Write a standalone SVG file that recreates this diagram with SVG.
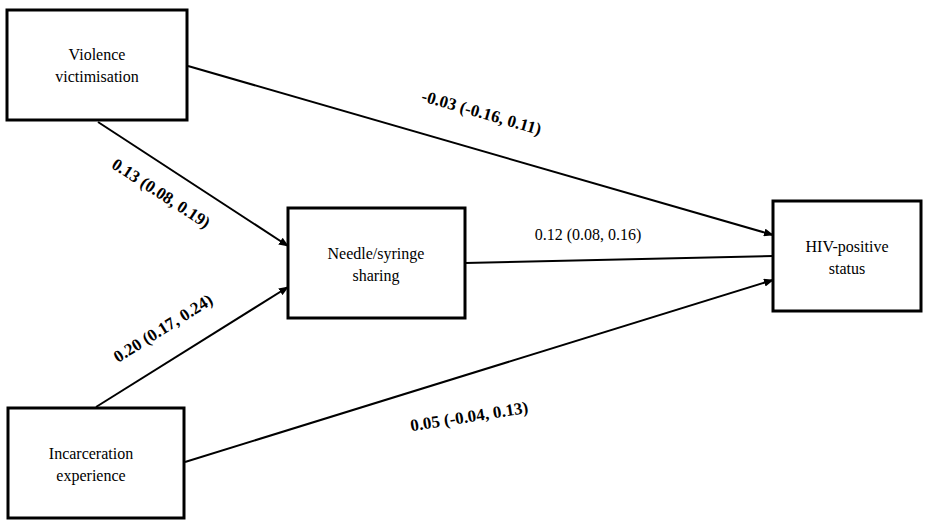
<svg xmlns="http://www.w3.org/2000/svg" width="933" height="523" viewBox="0 0 933 523">
<defs>
<style>
.box{fill:#fff;stroke:#000;stroke-width:3}
.t{font-family:"Liberation Serif","Times New Roman","DejaVu Serif",serif;font-size:16px;fill:#000;text-anchor:middle}
.b{font-weight:bold;font-size:17px}
.c{stroke:#000;stroke-width:2;fill:none}
</style>
<marker id="a" markerWidth="10" markerHeight="8" refX="9" refY="4" orient="auto" markerUnits="userSpaceOnUse"><path d="M0,0 L10,4 L0,8 z" fill="#000"/></marker>
</defs>
<rect width="933" height="523" fill="#fff"/>
<g id="connectors">
<line class="c" x1="188" y1="66" x2="773" y2="235" marker-end="url(#a)"/>
<line class="c" x1="98" y1="122" x2="288" y2="246" marker-end="url(#a)"/>
<line class="c" x1="96" y1="407" x2="288" y2="287" marker-end="url(#a)"/>
<line class="c" x1="185" y1="462" x2="773" y2="280" marker-end="url(#a)"/>
<line class="c" x1="465" y1="263" x2="773" y2="256"/>
<text class="t b" transform="translate(480,118) rotate(16)">-0.03 (-0.16, 0.11)</text>
<text class="t b" transform="translate(158,198) rotate(33)">0.13 (0.08, 0.19)</text>
<text class="t b" transform="translate(166,333) rotate(-32)">0.20 (0.17, 0.24)</text>
<text class="t b" transform="translate(470,422) rotate(-9)">0.05 (-0.04, 0.13)</text>
<text class="t" x="588" y="240">0.12 (0.08, 0.16)</text>
</g>
<g id="violence"><rect class="box" x="7" y="10" width="180" height="110"/><text class="t" x="97" y="60">Violence</text><text class="t" x="97" y="82">victimisation</text></g>
<g id="needle"><rect class="box" x="288" y="208" width="177" height="110"/><text class="t" x="376" y="259">Needle/syringe</text><text class="t" x="376" y="281">sharing</text></g>
<g id="hiv"><rect class="box" x="773" y="201" width="148" height="110"/><text class="t" x="847" y="252">HIV-positive</text><text class="t" x="847" y="274">status</text></g>
<g id="incarceration"><rect class="box" x="8" y="408" width="176" height="110"/><text class="t" x="91" y="459">Incarceration</text><text class="t" x="91" y="481">experience</text></g>
</svg>
